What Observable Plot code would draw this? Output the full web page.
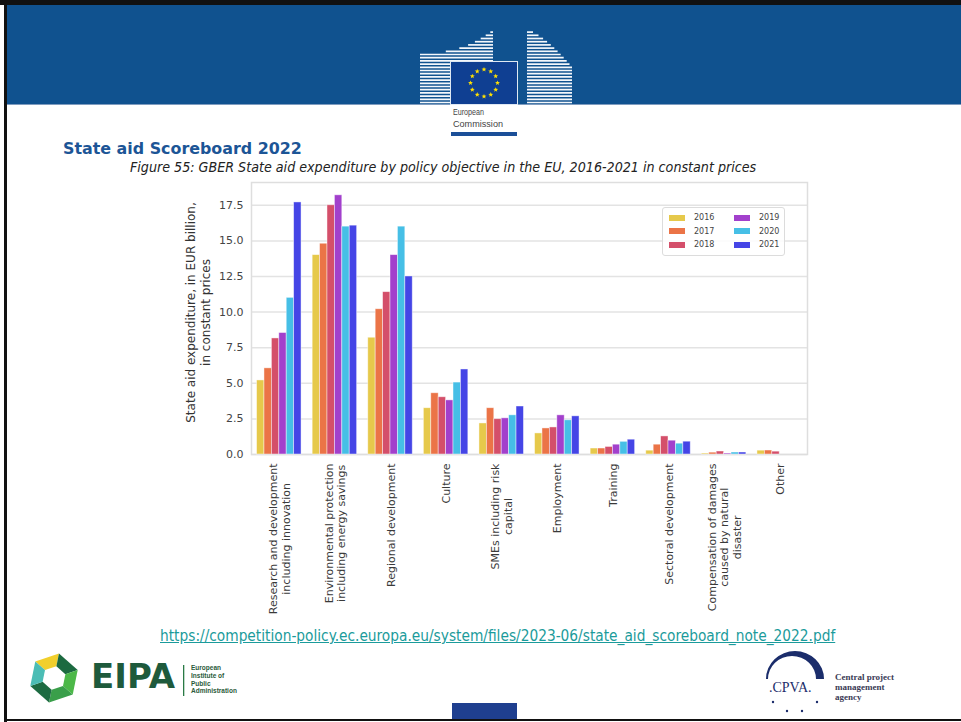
<!DOCTYPE html>
<html><head><meta charset="utf-8">
<script src="https://cdn.jsdelivr.net/npm/d3@7"></script>
<script src="https://cdn.jsdelivr.net/npm/@observablehq/plot@0.6"></script>
<style>
html,body{margin:0;padding:0;background:#fff;}
#page{position:relative;width:961px;height:722px;overflow:hidden;background:#fff;font-family:"DejaVu Sans",sans-serif;}
.abs{position:absolute;white-space:nowrap;}
#legend{position:absolute;left:662px;top:207px;width:121px;height:44px;border:1px solid #dcdcdc;border-radius:3px;background:rgba(255,255,255,0.85);display:grid;grid-auto-flow:column;grid-template-rows:repeat(3,13.5px);grid-template-columns:65px 56px;padding-top:3px;box-sizing:content-box;font-family:"DejaVu Sans",sans-serif;font-size:8px;color:#444;}
#legend .it{display:flex;align-items:center;padding-left:6px;}
#legend .sw{width:16px;height:6px;margin-right:9px;}
</style></head><body><div id="page"></div>
<script>
// ---------- data ----------
const categories = [
  "Research and development\nincluding innovation",
  "Environmental protection\nincluding energy savings",
  "Regional development",
  "Culture",
  "SMEs including risk\ncapital",
  "Employment",
  "Training",
  "Sectoral development",
  "Compensation of damages\ncaused by natural\ndisaster",
  "Other"
];
const years = ["2016", "2017", "2018", "2019", "2020", "2021"];
const colors = ["#e6c94b", "#eb7447", "#d44f6a", "#a240cc", "#46bfe6", "#4545e6"];
const v2016 = [5.2, 14.0, 8.2, 3.25, 2.18, 1.48, 0.42, 0.27, 0.07, 0.27];
const v2017 = [6.05, 14.8, 10.2, 4.3, 3.25, 1.83, 0.42, 0.69, 0.13, 0.28];
const v2018 = [8.15, 17.5, 11.4, 4.02, 2.48, 1.9, 0.53, 1.27, 0.21, 0.2];
const v2019 = [8.53, 18.2, 14.0, 3.8, 2.54, 2.75, 0.69, 0.97, 0.07, 0];
const v2020 = [11.0, 16.0, 16.0, 5.05, 2.75, 2.4, 0.89, 0.76, 0.14, 0];
const v2021 = [17.7, 16.07, 12.5, 5.97, 3.37, 2.68, 1.04, 0.9, 0.14, 0];
const yTicks = [0, 2.5, 5, 7.5, 10, 12.5, 15, 17.5];
const yMax = 19.1;
const yLabel = "State aid expenditure, in EUR billion,\nin constant prices";
const titleText = "State aid Scoreboard 2022";
const captionText = "Figure 55: GBER State aid expenditure by policy objective in the EU, 2016-2021 in constant prices";
const linkText = "https://competition-policy.ec.europa.eu/system/files/2023-06/state_aid_scoreboard_note_2022.pdf";

const page = document.getElementById("page");
function add(html) { page.insertAdjacentHTML("beforeend", html); return page.lastElementChild; }
function fit(el, target) {
  const w = el.getBoundingClientRect().width;
  const fs = parseFloat(getComputedStyle(el).fontSize);
  el.style.fontSize = (fs * target / w) + "px";
}

// ---------- slide frame & header ----------
add(`<div class="abs" style="left:7px;top:5px;width:954px;height:99px;background:#10528f"></div>`);
add(`<div class="abs" style="left:7px;top:104px;width:954px;height:1px;background:#7f9cbf"></div>`);
add(`<div class="abs" style="left:0;top:0;width:961px;height:5px;background:#111"></div>`);
add(`<div class="abs" style="left:4px;top:0;width:3px;height:722px;background:#111"></div>`);
add(`<div class="abs" style="left:4px;top:719px;width:957px;height:2px;background:#111"></div>`);

// European Commission logo (decorative)
(function () {
  let s = `<svg class="abs" style="left:0;top:0" width="961" height="140" xmlns="http://www.w3.org/2000/svg">`;
  for (let y = 102.5; y > 29; y -= 3.2) {
    const xl = y >= 53 ? 420 : 420 + 73 * Math.pow((53 - y) / 23, 0.4);
    if (xl < 492) s += `<path d="M${xl.toFixed(1)},${y.toFixed(1)} L493,${y.toFixed(1)}" stroke="#f4f7fb" stroke-width="1.7" fill="none"/>`;
    const xr = y >= 67 ? 572 : 527 + 45 * Math.pow((y - 30) / 37, 0.7);
    if (y > 31) s += `<path d="M527,${y.toFixed(1)} L${xr.toFixed(1)},${y.toFixed(1)}" stroke="#f4f7fb" stroke-width="1.7" fill="none"/>`;
  }
  s += `<rect x="450" y="61" width="68" height="44" fill="#dfe8f3"/>`;
  s += `<rect x="451" y="62" width="66" height="42" fill="#0f3f92"/>`;
  for (let k = 0; k < 12; k++) {
    const a = k * Math.PI / 6, cx = 484 + 13.5 * Math.cos(a), cy = 83 + 13.5 * Math.sin(a);
    let p = "";
    for (let q = 0; q < 10; q++) {
      const r = q % 2 ? 1.1 : 2.6, b = -Math.PI / 2 + q * Math.PI / 5;
      p += (q ? "L" : "M") + (cx + r * Math.cos(b)).toFixed(2) + "," + (cy + r * Math.sin(b)).toFixed(2);
    }
    s += `<path d="${p}Z" fill="#ffe000"/>`;
  }
  s += `<text x="453" y="115" textLength="31" lengthAdjust="spacingAndGlyphs" font-family="Liberation Sans, sans-serif" font-size="9.5" fill="#444">European</text>`;
  s += `<text x="453" y="127" textLength="50" lengthAdjust="spacingAndGlyphs" font-family="Liberation Sans, sans-serif" font-size="9.5" fill="#444">Commission</text>`;
  s += `<rect x="451" y="132" width="66" height="4" fill="#1b4f98"/>`;
  s += `</svg>`;
  add(s);
})();

// title & caption
const t1 = add(`<div class="abs" style="left:63px;top:139px;font-family:'DejaVu Sans',sans-serif;font-weight:bold;font-size:16px;color:#1c5596">${titleText}</div>`);
fit(t1, 239);
const t2 = add(`<div class="abs" style="left:130px;top:159px;font-family:'DejaVu Sans Condensed','Liberation Sans Narrow','Liberation Sans',sans-serif;font-style:italic;font-size:13px;color:#222">${captionText}</div>`);
fit(t2, 627);

// ---------- chart ----------
const series = [v2016, v2017, v2018, v2019, v2020, v2021];
const bw = 0.8 / years.length;
const rows = years.flatMap((year, j) => series[j].map((value, i) => ({i, j, year, value}))).filter(d => d.value > 0);

const ctx = document.createElement("canvas").getContext("2d");
ctx.font = "11px 'DejaVu Sans'";
const longest = c => Math.max(...c.split("\n").map(l => ctx.measureText(l).width));

const labelMarks = categories.map((c, i) => Plot.text([i], {
  x: d => d, text: d => categories[d], frameAnchor: "bottom", rotate: -90,
  textAnchor: "middle", lineAnchor: "middle", lineHeight: 1.15,
  dy: 9 + longest(c) / 2, fontSize: 11, fill: "#3a3a3a"
}));

const chart = Plot.plot({
  width: 961, height: 450,
  marginLeft: 251, marginRight: 154, marginTop: 12, marginBottom: 166,
  style: {fontFamily: "'DejaVu Sans', sans-serif", fontSize: "11px", color: "#444", background: "transparent", overflow: "visible"},
  x: {domain: [-0.5, categories.length - 0.5], axis: null},
  y: {domain: [0, yMax], ticks: yTicks, tickFormat: d3.format(".1f"), tickSize: 0, tickPadding: 8, label: null},
  color: {domain: years, range: colors},
  marks: [
    Plot.ruleY(yTicks, {stroke: "#e3e3e3", strokeWidth: 1.5}),
    Plot.frame({stroke: "#dedede", strokeWidth: 1.5}),
    Plot.rect(rows, {
      x1: d => d.i - 0.4 + d.j * bw, x2: d => d.i - 0.4 + (d.j + 1) * bw,
      y1: 0, y2: "value", fill: "year", stroke: "#fff", strokeOpacity: 0.55, strokeWidth: 0.8
    }),
    ...labelMarks,
    Plot.text([yLabel], {text: d => d, frameAnchor: "left", rotate: -90, textAnchor: "middle", lineAnchor: "middle",
      lineHeight: 1.25, dx: -54, dy: -6, fontSize: 12, fill: "#333"})
  ]
});
chart.style.position = "absolute";
chart.style.left = "0px";
chart.style.top = "170px";
page.appendChild(chart);

// legend
const lg = add(`<div id="legend"></div>`);
years.forEach((y, k) => {
  lg.insertAdjacentHTML("beforeend", `<div class="it"><span class="sw" style="background:${colors[k]}"></span><span>${y}</span></div>`);
});

// ---------- footer ----------
const ln = add(`<div class="abs" style="left:160px;top:627px;font-family:'DejaVu Sans Condensed','Liberation Sans Narrow','Liberation Sans',sans-serif;font-size:13px;color:#1b9b9b;text-decoration:underline">${linkText}</div>`);
fit(ln, 676);

// EIPA logo (decorative)
(function () {
  const cx = 54, cy = 678, R = 25, r = 12;
  const pt = (rad, k) => [cx + rad * Math.cos(Math.PI / 3 * k - Math.PI / 2 + 0.2), cy + rad * Math.sin(Math.PI / 3 * k - Math.PI / 2 + 0.2)];
  const segCols = ["#f1cf2c", "#1c6a40", "#4cb848", "#3a9f4a", "#1d6b42", "#4bbdb5"];
  let s = `<svg class="abs" style="left:0;top:640px" width="300" height="82" xmlns="http://www.w3.org/2000/svg"><g transform="translate(0,-640)">`;
  for (let k = 0; k < 6; k++) {
    const a = pt(R, k - 1), b = pt(R, k), c = pt(r, k), d = pt(r, k - 1);
    s += `<path d="M${a}L${b}L${c}L${d}Z" fill="${segCols[k]}"/>`;
  }
  s += `<rect x="183" y="665" width="1.3" height="31" fill="#2a7a45"/>`;
  s += `</g></svg>`;
  add(s);
})();
const ei = add(`<div class="abs" style="left:91px;top:659px;font-family:'DejaVu Sans',sans-serif;font-weight:bold;font-size:34px;color:#1e5a3c;line-height:1">EIPA</div>`);
fit(ei, 84);
add(`<div class="abs" style="left:191px;top:664px;font-family:'Liberation Sans',sans-serif;font-weight:bold;font-size:6.5px;line-height:7.8px;color:#2a5a3a;white-space:pre">European\nInstitute of\nPublic\nAdministration</div>`);

// CPVA logo (decorative)
(function () {
  let s = `<svg class="abs" style="left:740px;top:640px" width="221" height="82" xmlns="http://www.w3.org/2000/svg"><g transform="translate(-740,-640)">`;
  s += `<path d="M766,679 A29,28 0 0 1 824,679 L816,679 A24,23 0 0 0 768,679 Z" fill="#1b2d6b"/>`;
  s += `<text x="769" y="692" font-family="Liberation Serif, DejaVu Serif, serif" font-size="14" fill="#1b2d6b">.CPVA.</text>`;
  [[773, 702], [817, 702], [787, 711], [802, 711]].forEach(p => s += `<circle cx="${p[0]}" cy="${p[1]}" r="1.2" fill="#1b2d6b"/>`);
  s += `<text font-family="Liberation Serif, DejaVu Serif, serif" font-weight="bold" font-size="9" fill="#3a3a55"><tspan x="835" y="680">Central project</tspan><tspan x="835" y="690">management</tspan><tspan x="835" y="700">agency</tspan></text>`;
  s += `</g></svg>`;
  add(s);
})();
add(`<div class="abs" style="left:452px;top:703px;width:65px;height:16px;background:#1f3f8f"></div>`);
</script>
</body></html>
